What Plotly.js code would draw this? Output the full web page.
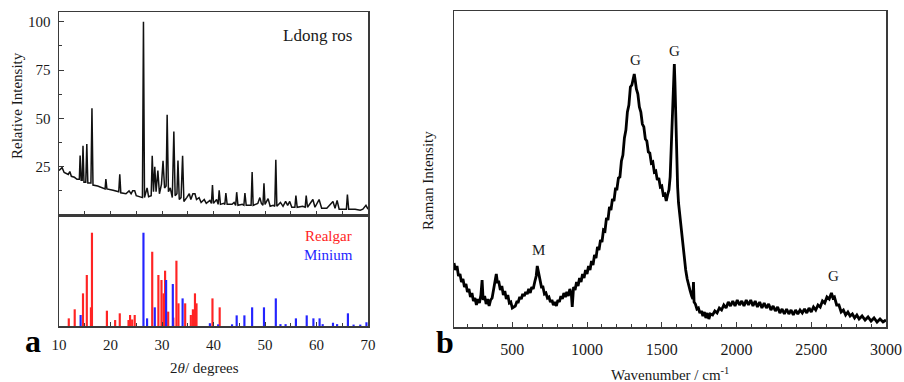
<!DOCTYPE html>
<html><head><meta charset="utf-8">
<script src="https://cdn.plot.ly/plotly-3.0.1.min.js"></script>
<style>html,body{margin:0;padding:0;background:#fff}#chart{width:904px;height:382px}</style>
</head><body><div id="chart"></div>
<script>
// ---- Panel a (top): XRD pattern, 2theta (deg) vs relative intensity ----
const xrdTheta = [10,10.6,11,11.8,12.1,12.4,13,13.5,13.95,14.1,14.3,14.5,14.66,14.85,15.2,15.4,15.6,16.2,16.4,16.6,17.5,18.5,18.95,19.1,19.3,20.5,21.6,21.8,22.0,23,23.6,24,24.3,24.7,25,26.2,26.4,26.6,27.1,27.4,27.9,28.1,28.35,28.6,28.85,29.2,29.5,29.9,30.2,30.5,30.8,31.0,31.25,31.6,32.0,32.3,32.55,32.9,33.1,33.35,33.7,34.0,34.25,34.8,35.3,35.6,36.0,36.4,36.7,37.2,37.6,38.2,38.6,39.3,39.6,39.8,40.0,40.6,40.9,41.1,41.35,42.0,42.2,42.4,42.65,43.6,44.0,44.3,44.5,44.75,45.6,45.9,46.1,46.35,47.1,47.3,47.5,47.7,48.6,49.0,49.3,49.6,49.8,50.0,50.6,51.0,51.6,51.9,52.1,52.3,53.0,53.5,54.0,54.4,54.8,55.2,55.8,56.0,56.25,57.3,57.8,58.0,58.25,59.3,59.7,60.5,61.0,62.0,63.2,63.6,64.0,64.4,65.2,65.8,66.0,66.25,67.5,68.5,69.0,69.6,70];
const xrdIntensity = [23,24.5,22,21,22.5,20,19.5,18.5,18.5,30.8,18,18,35.8,17,17,36.7,16.5,16.5,55.2,15.5,15,14,13.5,18.6,13.5,12.8,12,21,11.5,11,12.5,11,12.5,12.5,10,9,100,9,14,9.5,10,30.6,12,25,12,23,11,16,28,14,15,51.8,12,14,9,43.2,10,11,28.2,8,9,30.6,7,9,11,8,11,11,8,9,6.5,8,6,7.5,6,15.5,6,8,5.5,12.8,5.5,6,5.5,11.4,5.5,5.5,6.5,5,11.8,5,5.5,5,11.4,5,5,5,22.2,5,6,9,6,5,16.4,5.5,8.5,4.5,5,4.5,28.6,4.5,6.5,4.5,7,5,7,4,4,10,4,4.5,4,10,4,8,4,8,3.5,3.5,7,3.5,7.5,3,3,3,10.6,3,3,2.5,3,5,3];

// ---- Panel a (bottom): reference stick patterns ----
const realgarTheta = [11.9,13.05,14.66,15.4,16.2,16.4,19.3,20.9,21.8,23.5,23.8,24.2,24.7,28.1,29.3,29.9,30.3,30.6,31.2,32.2,32.8,33.2,34.5,35.6,36.0,36.4,36.7,39.8,41.2];
const realgarInt = [8.2,17.9,35,54.7,20,100,16.4,6.4,13.6,6.4,11.8,7,11.8,79.6,54.7,49.3,35,59.3,15.4,9,70,24.3,24.3,11.8,17.9,35,24.3,29.6,20];
const miniumTheta = [14.2,26.4,27.1,28.6,30.8,32.1,34.0,39.3,40.9,43.6,44.5,46.0,47.5,49.8,52.1,53.0,54.0,56.0,58.1,59.4,60.6,61.2,63.2,64.0,66.1,67.2,68.5,69.7];
const miniumInt = [11.8,100,8.2,20,49.3,45,29.6,3,1.8,1.8,11.4,11.4,20,20,29.6,2,2,8.2,11.4,8.2,8.2,2,3.5,2,13.6,1.5,1.5,4];
const xrdTickVals = [10,20,30,40,50,60,70];
const xrdYTickVals = [25,50,75,100];

// ---- Panel b: Raman spectrum ----
const ramanWavenumber = [110,120,130,140,150,160,170,180,190,200,210,220,230,240,250,260,270,280,290,298,305,315,325,335,345,355,365,375,385,393,400,410,420,430,440,450,460,470,480,490,500,510,520,530,540,550,560,570,580,590,600,610,620,630,640,650,660,667,675,685,695,705,715,725,735,745,755,765,775,785,795,805,815,825,835,845,855,865,875,885,895,901,910,920,930,940,950,960,970,980,990,1000,1010,1020,1030,1040,1050,1060,1070,1080,1090,1100,1110,1120,1130,1140,1150,1160,1170,1180,1190,1200,1210,1220,1230,1240,1250,1260,1270,1280,1290,1300,1310,1316,1322,1330,1340,1350,1360,1370,1380,1390,1400,1410,1420,1430,1440,1450,1460,1470,1480,1490,1500,1510,1520,1530,1540,1548,1556,1565,1575,1580,1584,1588,1594,1600,1606,1612,1620,1630,1640,1650,1660,1670,1680,1690,1700,1708,1712,1716,1725,1735,1745,1755,1765,1775,1785,1795,1805,1815,1825,1840,1855,1870,1885,1900,1915,1930,1945,1960,1975,1990,2005,2020,2035,2050,2065,2080,2095,2110,2125,2140,2155,2170,2185,2200,2215,2230,2245,2260,2275,2290,2305,2320,2335,2350,2365,2380,2395,2410,2425,2440,2455,2470,2485,2500,2515,2530,2545,2560,2575,2590,2605,2620,2635,2645,2655,2670,2685,2700,2715,2730,2745,2760,2775,2790,2805,2820,2840,2860,2880,2900,2920,2940,2960,2980,3000];
const ramanIntensity = [64,57,61,51,53,45,48,40,43,35,38,30,34,26,29,22,28,24,32,47,27,31,23,28,21,27,29,37,43,53,45,45,37,41,32,36,28,32,24,25,19,20,21,25,25,30,28,33,31,35,33,38,34,40,38,45,51,61,54,48,40,40,33,34,29,30,25,27,22,25,21,27,25,31,28,34,30,35,31,38,33,20,40,37,45,41,49,45,53,49,57,53,61,57,66,62,72,69,80,77,87,85,97,96,109,107,120,117,128,126,138,138,149,150,166,172,189,197,215,222,240,242,252,253,247,238,233,220,215,203,200,188,186,175,174,164,165,155,156,147,149,140,141,132,133,126,133,137,150,185,230,252,263,245,205,165,140,124,112,98,82,68,57,48,41,36,31,28,45,25,23,18,19,14,16,11,15,9,14,8,13,12,16,14,19,17,22,19,25,21,26,21,27,22,26,21,27,22,27,21,26,20,25,19,24,19,23,17,21,16,20,14,18,13,18,13,17,12,17,13,17,14,18,14,19,15,20,17,22,20,26,24,30,28,34,29,30,22,22,15,17,12,15,11,13,9,12,8,11,7,10,6,9,5,8,5,7];
const ramanTickVals = [500,1000,1500,2000,2500,3000];

const W = 904, H = 382;
const PX = p => p / W, PY = p => 1 - p / H;
const serif = 'Liberation Serif, Times New Roman, serif';
const ink = '#1a1a1a', frame = '#3a3a3a';

const traces = [
  {x: xrdTheta, y: xrdIntensity, xaxis: 'x', yaxis: 'y', type: 'scatter', mode: 'lines',
   line: {color: '#111', width: 1.5}, hoverinfo: 'skip'},
  {x: realgarTheta, y: realgarInt, xaxis: 'x2', yaxis: 'y2', type: 'bar', width: 0.42,
   marker: {color: '#ff2424', line: {width: 0}}, name: 'Realgar'},
  {x: miniumTheta, y: miniumInt, xaxis: 'x2', yaxis: 'y2', type: 'bar', width: 0.42,
   marker: {color: '#2424ff', line: {width: 0}}, name: 'Minium'},
  {x: ramanWavenumber, y: ramanIntensity, xaxis: 'x3', yaxis: 'y3', type: 'scatter', mode: 'lines',
   line: {color: '#000', width: 2.8}, hoverinfo: 'skip'}
];

const dA = [PX(59), PX(368)];
const baseAxis = {showline: true, mirror: true, linecolor: frame, linewidth: 1.5, zeroline: false,
  showgrid: false, ticks: 'inside', tickcolor: frame, tickfont: {family: serif, size: 15, color: ink}};

const layout = {
  width: W, height: H, margin: {l: 0, r: 0, t: 0, b: 0}, paper_bgcolor: '#fff', plot_bgcolor: '#fff',
  showlegend: false, barmode: 'overlay', font: {family: serif, color: ink},
  xaxis: Object.assign({}, baseAxis, {domain: dA, anchor: 'y', range: [10, 70], dtick: 5, tick0: 10,
    ticklen: 4, showticklabels: false}),
  yaxis: Object.assign({}, baseAxis, {domain: [PY(215), PY(12)], anchor: 'x', range: [0, 105],
    tickvals: xrdYTickVals, ticklen: 5, minor: {dtick: 12.5, tick0: 0, ticklen: 3, ticks: 'inside', tickcolor: frame},
    ticklabelstandoff: 4}),
  xaxis2: Object.assign({}, baseAxis, {domain: dA, anchor: 'y2', range: [10, 70], tickvals: xrdTickVals,
    ticklen: 4, minor: {dtick: 5, tick0: 10, ticklen: 3, ticks: 'inside', tickcolor: frame}, ticklabelstandoff: 4}),
  yaxis2: Object.assign({}, baseAxis, {domain: [PY(326), PY(215)], anchor: 'x2', range: [0, 119],
    ticks: '', showticklabels: false}),
  xaxis3: Object.assign({}, baseAxis, {domain: [PX(454), PX(886)], anchor: 'y3', range: [110, 3000],
    tickvals: ramanTickVals, ticklen: 5, minor: {dtick: 100, tick0: 0, ticklen: 3, ticks: 'inside', tickcolor: frame},
    ticklabelstandoff: 7, tickfont: {family: serif, size: 16, color: ink}}),
  yaxis3: Object.assign({}, baseAxis, {domain: [PY(327), PY(11)], anchor: 'x3', range: [0, 316],
    ticks: '', showticklabels: false}),
  annotations: [
    {xref: 'paper', yref: 'paper', x: PX(17), y: PY(106), text: 'Relative Intensity', textangle: -90,
     showarrow: false, font: {family: serif, size: 15, color: ink}, xanchor: 'center', yanchor: 'middle'},
    {xref: 'paper', yref: 'paper', x: PX(204), y: PY(368), text: '2<i>θ</i>/ degrees',
     showarrow: false, font: {family: serif, size: 15, color: ink}, xanchor: 'center', yanchor: 'middle'},
    {xref: 'paper', yref: 'paper', x: PX(33), y: PY(341), text: '<b>a</b>',
     showarrow: false, font: {family: serif, size: 32, color: '#000'}, xanchor: 'center', yanchor: 'middle'},
    {xref: 'paper', yref: 'paper', x: PX(317), y: PY(36), text: 'Ldong ros',
     showarrow: false, font: {family: serif, size: 17, color: ink}, xanchor: 'center', yanchor: 'middle'},
    {xref: 'paper', yref: 'paper', x: PX(328), y: PY(236), text: 'Realgar',
     showarrow: false, font: {family: serif, size: 15, color: '#ff2424'}, xanchor: 'center', yanchor: 'middle'},
    {xref: 'paper', yref: 'paper', x: PX(328), y: PY(255), text: 'Minium',
     showarrow: false, font: {family: serif, size: 15, color: '#2424ff'}, xanchor: 'center', yanchor: 'middle'},
    {xref: 'paper', yref: 'paper', x: PX(428), y: PY(181), text: 'Raman Intensity', textangle: -90,
     showarrow: false, font: {family: serif, size: 15, color: ink}, xanchor: 'center', yanchor: 'middle'},
    {xref: 'paper', yref: 'paper', x: PX(670), y: PY(374), text: 'Wavenumber / cm<sup>-1</sup>',
     showarrow: false, font: {family: serif, size: 15, color: ink}, xanchor: 'center', yanchor: 'middle'},
    {xref: 'paper', yref: 'paper', x: PX(445), y: PY(342), text: '<b>b</b>',
     showarrow: false, font: {family: serif, size: 32, color: '#000'}, xanchor: 'center', yanchor: 'middle'},
    {xref: 'x3', yref: 'y3', x: 672, y: 77, text: 'M', showarrow: false,
     font: {family: serif, size: 15, color: ink}, xanchor: 'center', yanchor: 'middle'},
    {xref: 'x3', yref: 'y3', x: 1321, y: 267, text: 'G', showarrow: false,
     font: {family: serif, size: 15, color: ink}, xanchor: 'center', yanchor: 'middle'},
    {xref: 'x3', yref: 'y3', x: 1584, y: 276, text: 'G', showarrow: false,
     font: {family: serif, size: 15, color: ink}, xanchor: 'center', yanchor: 'middle'},
    {xref: 'x3', yref: 'y3', x: 2648, y: 51, text: 'G', showarrow: false,
     font: {family: serif, size: 15, color: ink}, xanchor: 'center', yanchor: 'middle'}
  ]
};

Plotly.newPlot('chart', traces, layout, {staticPlot: true, displayModeBar: false});
</script></body></html>
